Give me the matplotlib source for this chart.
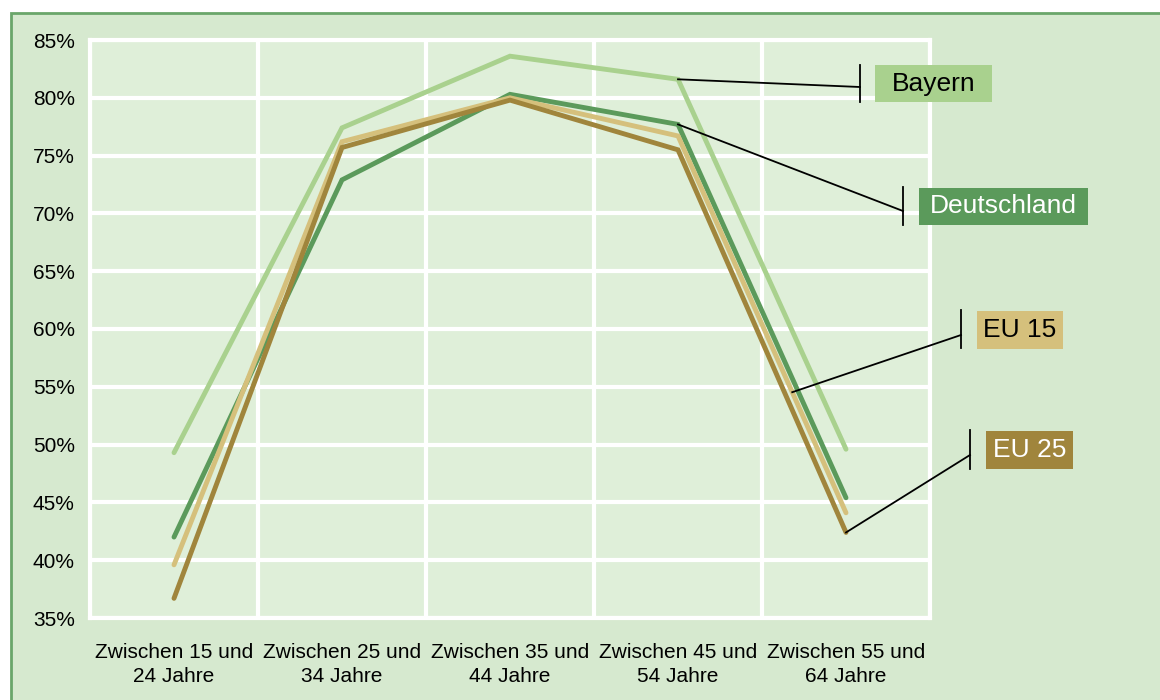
import numpy as np
import matplotlib
matplotlib.use("Agg")
import matplotlib.pyplot as plt
from matplotlib.patches import Rectangle
from matplotlib.lines import Line2D

# data
categories = ["Zwischen 15 und\n24 Jahre", "Zwischen 25 und\n34 Jahre", "Zwischen 35 und\n44 Jahre",
              "Zwischen 45 und\n54 Jahre", "Zwischen 55 und\n64 Jahre"]
bayern = [49.3, 77.4, 83.6, 81.6, 49.6]
deutschland = [42.0, 72.9, 80.3, 77.7, 45.4]
eu15 = [39.6, 76.2, 80.0, 76.7, 44.1]
eu25 = [36.7, 75.7, 79.8, 75.5, 42.4]
series_names = ["Bayern", "Deutschland", "EU 15", "EU 25"]
yticks = [35, 40, 45, 50, 55, 60, 65, 70, 75, 80, 85]

colors = ["#a9d18e", "#5b9a5b", "#d5c07c", "#a0853c"]
text_colors = ["black", "white", "black", "white"]

plt.rcParams['font.family'] = ['Liberation Sans', 'DejaVu Sans']

W, H = 1160, 700
fig = plt.figure(figsize=(W / 100, H / 100), dpi=100)
fig.patch.set_facecolor("white")


def fx(x):
    return x / W


def fy(y):
    return 1 - y / H


# outer chart area with green border
fig.patches.append(Rectangle((fx(11), fy(720)), fx(1170), 707 / H, transform=fig.transFigure,
                             facecolor="#d6e9cf", edgecolor="#6aa66a", linewidth=2, zorder=-1))

ax = fig.add_axes([fx(90), fy(618), fx(840), 578 / H])
ax.set_facecolor("#dfefd9")

x = np.arange(len(categories))
data = [bayern, deutschland, eu15, eu25]
for vals, c in zip(data, colors):
    ax.plot(x, vals, color=c, linewidth=3.5, solid_capstyle="round", solid_joinstyle="miter", zorder=3)

ax.set_xlim(-0.5, len(categories) - 0.5)
ax.set_ylim(35, 85)
ax.set_yticks(yticks)
ax.set_yticklabels([f"{v}%" for v in yticks])
ax.set_xticks(x)
ax.set_xticklabels(categories, linespacing=1.3)
ax.set_xticks(np.arange(len(categories) + 1) - 0.5, minor=True)
ax.tick_params(axis="both", which="both", length=0, labelsize=15)
ax.tick_params(axis="y", pad=11)
ax.tick_params(axis="x", pad=18)
ax.grid(axis="y", which="major", color="white", linewidth=3)
ax.grid(axis="x", which="minor", color="white", linewidth=3)
for s in ax.spines.values():
    s.set_color("white")
    s.set_linewidth(3)

# labels with leader lines: (anchor x in data, bar x, bar top, bar bottom, leader end y, box)
label_specs = [
    (3.0, 860, 65, 102, 87, (875, 65, 992, 102)),
    (3.0, 903, 187, 225, 211, (919, 188, 1088, 225)),
    (3.68, 961, 310, 348, 335, (977, 311, 1063, 349)),
    (4.0, 970, 430, 469, 455, (986, 431, 1073, 469)),
]
for i, (ax_x, bx, bt, bb, ly, box) in enumerate(label_specs):
    ay = np.interp(ax_x, x, data[i])
    px, py = ax.transData.transform((ax_x, ay))
    fig.lines.append(Line2D([px / W, fx(bx)], [py / H, fy(ly)], transform=fig.transFigure,
                            color="black", linewidth=1.3, zorder=5))
    fig.lines.append(Line2D([fx(bx), fx(bx)], [fy(bt), fy(bb)], transform=fig.transFigure,
                            color="black", linewidth=1.3, zorder=5))
    x0, y0, x1, y1 = box
    fig.patches.append(Rectangle((fx(x0), fy(y1)), fx(x1 - x0), (y1 - y0) / H, transform=fig.transFigure,
                                 facecolor=colors[i], edgecolor="none", zorder=4))
    fig.text(fx((x0 + x1) / 2), fy((y0 + y1) / 2), series_names[i], ha="center", va="center",
             fontsize=19, color=text_colors[i], zorder=6)

fig.savefig("out.png", dpi=100)
